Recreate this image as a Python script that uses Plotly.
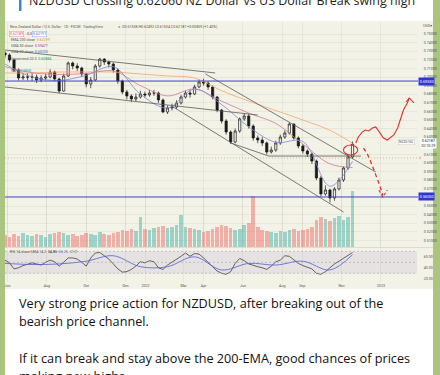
import plotly.graph_objects as go
import pandas as pd

# ---------------- data ----------------
WEEK_START = "2021-05-28"
FIRST_OPEN = 0.7280
CLOSE = [0.7256, 0.7198, 0.7081, 0.6988, 0.7000, 0.7000, 0.7000, 0.6965, 0.6988, 0.7000,
         0.7058, 0.6977, 0.6837, 0.7012, 0.7163, 0.7128, 0.7105, 0.7035, 0.6919, 0.6965,
         0.7128, 0.7209, 0.7174, 0.7151, 0.7081, 0.6953, 0.6826, 0.6779, 0.6744, 0.6767,
         0.6802, 0.6791, 0.6814, 0.6814, 0.6733, 0.6593, 0.6640, 0.6651, 0.6698, 0.6767,
         0.6814, 0.6802, 0.6884, 0.6942, 0.6930, 0.6884, 0.6767, 0.6616, 0.6488, 0.6360,
         0.6244, 0.6372, 0.6512, 0.6547, 0.6430, 0.6291, 0.6267, 0.6233, 0.6128, 0.6151,
         0.6233, 0.6302, 0.6349, 0.6453, 0.6291, 0.6198, 0.6140, 0.6105, 0.6023, 0.5826,
         0.5640, 0.5686, 0.5593, 0.5698, 0.5802, 0.5942, 0.6070, 0.6219]
HIGH = [0.7300, 0.7275, 0.7215, 0.7100, 0.7040, 0.7045, 0.7050, 0.7030, 0.7020, 0.7040,
        0.7090, 0.7075, 0.6990, 0.7040, 0.7180, 0.7180, 0.7160, 0.7120, 0.7050, 0.7000,
        0.7150, 0.7220, 0.7220, 0.7190, 0.7170, 0.7100, 0.6970, 0.6850, 0.6800, 0.6810,
        0.6840, 0.6830, 0.6850, 0.6850, 0.6830, 0.6750, 0.6670, 0.6690, 0.6730, 0.6790,
        0.6840, 0.6850, 0.6910, 0.6970, 0.6980, 0.6950, 0.6900, 0.6780, 0.6630, 0.6510,
        0.6380, 0.6400, 0.6530, 0.6580, 0.6570, 0.6450, 0.6320, 0.6300, 0.6250, 0.6190,
        0.6260, 0.6330, 0.6380, 0.6470, 0.6460, 0.6310, 0.6220, 0.6160, 0.6120, 0.6040,
        0.5850, 0.5740, 0.5700, 0.5720, 0.5830, 0.5960, 0.6090, 0.6250]
LOW = [0.7220, 0.7170, 0.7060, 0.6960, 0.6965, 0.6960, 0.6955, 0.6930, 0.6940, 0.6960,
       0.6985, 0.6950, 0.6810, 0.6830, 0.7000, 0.7090, 0.7070, 0.7000, 0.6880, 0.6870,
       0.6950, 0.7110, 0.7140, 0.7110, 0.7050, 0.6920, 0.6800, 0.6740, 0.6710, 0.6720,
       0.6750, 0.6760, 0.6770, 0.6780, 0.6700, 0.6580, 0.6570, 0.6610, 0.6630, 0.6680,
       0.6750, 0.6760, 0.6790, 0.6870, 0.6900, 0.6850, 0.6740, 0.6590, 0.6460, 0.6330,
       0.6220, 0.6230, 0.6350, 0.6490, 0.6400, 0.6260, 0.6230, 0.6200, 0.6100, 0.6110,
       0.6130, 0.6210, 0.6280, 0.6330, 0.6270, 0.6170, 0.6110, 0.6070, 0.5990, 0.5800,
       0.5610, 0.5620, 0.5540, 0.5560, 0.5680, 0.5780, 0.5920, 0.6050]
VOLUME = [21, 18, 23, 19, 25, 21, 19, 23, 21, 18, 23, 25, 26,
          25, 21, 23, 19, 21, 25, 23, 21, 26, 23, 21,
          25, 26, 30, 28, 32, 28, 53, 32,
          30, 33, 35, 37, 33, 35, 39, 56, 35, 33, 32, 30,
          26, 28, 32, 35, 39, 37, 33, 30, 32, 39, 42,
          89,
          35, 30, 28, 26, 25, 28, 26, 30, 32, 28, 30, 32, 35,
          47, 53, 49, 46, 51, 54, 47, 53,
          98]
RSI = [54, 49, 38, 40, 44, 47, 49, 47, 45, 50, 54, 51, 43, 50, 58, 58, 56, 50, 43, 58,
       67, 68, 62, 56, 47, 38, 32, 33, 37, 43, 51, 49, 53, 51, 40, 37, 45, 50, 55, 61,
       67, 61, 66, 65, 58, 50, 42, 34, 30, 28, 33, 48, 57, 53, 47, 44, 42, 40, 37, 43,
       51, 54, 62, 61, 54, 48, 44, 41, 38, 30, 28, 33, 40, 47, 52, 57, 63, 68]

MA_DATES = ["2021-05-28", "2021-07-09", "2021-08-20", "2021-10-01", "2021-11-12", "2021-12-24",
            "2022-02-04", "2022-03-18", "2022-04-29", "2022-06-10", "2022-07-22", "2022-09-02",
            "2022-10-14", "2022-11-18"]
EMA200 = [0.7047, 0.7047, 0.7058, 0.7058, 0.7058, 0.7035, 0.7012, 0.6988, 0.6840, 0.6720,
          0.6610, 0.6500, 0.6380, 0.6230]
SMA50 = [0.7120, 0.7050, 0.7030, 0.7040, 0.7070, 0.6900, 0.6780, 0.6860, 0.6720, 0.6580,
         0.6460, 0.6220, 0.5990, 0.5948]
SMA20 = [0.7150, 0.7000, 0.6960, 0.7020, 0.7120, 0.6800, 0.6640, 0.6860, 0.6680, 0.6420,
         0.6240, 0.6250, 0.5730, 0.6020]
RSI_SIGNAL = [48, 46, 47, 52, 62, 42, 42, 60, 36, 48, 45, 52, 36, 64]

TREND_X0 = ["2021-05-28", "2021-05-28", "2022-04-04", "2022-02-13", "2022-05-13", "2022-07-11"]
TREND_Y0 = [0.7314, 0.6884, 0.7035, 0.6651, 0.6233, 0.6081]
TREND_X1 = ["2022-04-19", "2022-06-24", "2022-12-24", "2022-11-04", "2022-07-11", "2022-12-01"]
TREND_Y1 = [0.7047, 0.6558, 0.5895, 0.5430, 0.6081, 0.6081]

UP_PATH_X = ["2022-11-23", "2022-11-27", "2022-12-03", "2022-12-08", "2022-12-13", "2022-12-19",
             "2022-12-24", "2022-12-27", "2023-01-01", "2023-01-05", "2023-01-11", "2023-01-16",
             "2023-01-21", "2023-01-27", "2023-02-01", "2023-02-05", "2023-02-11", "2023-02-14"]
UP_PATH_Y = [0.6233, 0.6302, 0.6360, 0.6384, 0.6372, 0.6407, 0.6419, 0.6384, 0.6326, 0.6291,
             0.6267, 0.6302, 0.6326, 0.6407, 0.6523, 0.6616, 0.6698, 0.6756]
UP_HEAD_X = ["2023-02-09", "2023-02-14", "2023-02-21"]
UP_HEAD_Y = [0.6709, 0.6756, 0.6698]
DOWN_PATH_X = ["2022-12-05", "2022-12-11", "2022-12-17", "2022-12-24", "2022-12-30", "2023-01-04"]
DOWN_PATH_Y = [0.6174, 0.6105, 0.6000, 0.5872, 0.5744, 0.5628]
DOWN_HEAD_X = ["2022-12-29", "2023-01-04", "2023-01-11"]
DOWN_HEAD_Y = [0.5686, 0.5605, 0.5686]
CIRCLE_X = ["2022-11-04", "2022-11-26"]
CIRCLE_Y = [0.6093, 0.6209]

BLUE_LEVELS = [0.6953, 0.5605]
BLUE_LABELS = ["0.69530", "0.56050"]
DOTTED_LEVEL = 0.6058
LAST_PRICE = 0.62187

PRICE_TICKS = [0.51, 0.52, 0.53, 0.54, 0.55, 0.57, 0.58, 0.59, 0.60, 0.61, 0.63, 0.64,
               0.65, 0.66, 0.67, 0.68, 0.69, 0.70, 0.71, 0.72, 0.73, 0.74, 0.75]
RSI_TICKS = [20, 40, 60]
DATE_TICKS = ["2021-06-01", "2021-08-01", "2021-10-01", "2021-12-01", "2022-01-01", "2022-03-01",
              "2022-04-01", "2022-06-01", "2022-08-01", "2022-09-01", "2022-11-01", "2023-01-01"]
DATE_LABELS = ["Jun", "Aug", "Oct", "Dec", "2022", "Mar", "Apr", "Jun", "Aug", "Sep", "Nov", "2023"]

TITLE = "NZDUSD Crossing 0.62060 NZ Dollar vs US Dollar Break swing high"
BODY = ["Very strong price action for NZDUSD, after breaking out of the",
        "bearish price channel.",
        "If it can break and stay above the 200-EMA, good chances of prices",
        "making new highs"]

# ---------------- figure ----------------
W, H = 440, 375
def px(x): return x / W
def py(y): return 1 - y / H

dates = pd.date_range(WEEK_START, periods=len(CLOSE), freq="7D")
opens = [FIRST_OPEN] + CLOSE[:-1]
vol_colors = ["rgba(38,166,154,0.42)" if CLOSE[i] >= opens[i] else "rgba(239,83,80,0.42)"
              for i in range(len(CLOSE))]

fig = go.Figure()
fig.add_trace(go.Bar(x=dates, y=VOLUME, marker=dict(color=vol_colors, line=dict(width=0)),
                     width=5.6 * 86400000, xaxis="x", yaxis="y2", hoverinfo="skip"))
for ys, col in [(EMA200, "#f2a66a"), (SMA50, "#d27a95"), (SMA20, "#7d8ad8")]:
    fig.add_trace(go.Scatter(x=MA_DATES, y=ys, mode="lines", line=dict(color=col, width=0.8, shape="spline"),
                             xaxis="x", yaxis="y", hoverinfo="skip"))
for x0, y0, x1, y1 in zip(TREND_X0, TREND_Y0, TREND_X1, TREND_Y1):
    fig.add_trace(go.Scatter(x=[x0, x1], y=[y0, y1], mode="lines", line=dict(color="#5a5a5a", width=0.8),
                             xaxis="x", yaxis="y", hoverinfo="skip"))
fig.add_trace(go.Candlestick(x=dates, open=opens, high=HIGH, low=LOW, close=CLOSE,
                             increasing=dict(line=dict(color="#1a1a1a", width=0.7), fillcolor="#f6f6f0"),
                             decreasing=dict(line=dict(color="#1a1a1a", width=0.7), fillcolor="#1a1a1a"),
                             whiskerwidth=0, xaxis="x", yaxis="y", hoverinfo="skip"))
red = "#e0302a"
fig.add_trace(go.Scatter(x=UP_PATH_X, y=UP_PATH_Y, mode="lines", line=dict(color=red, width=1.1),
                         xaxis="x", yaxis="y", hoverinfo="skip"))
fig.add_trace(go.Scatter(x=UP_HEAD_X, y=UP_HEAD_Y, mode="lines", line=dict(color=red, width=1.1),
                         xaxis="x", yaxis="y", hoverinfo="skip"))
fig.add_trace(go.Scatter(x=DOWN_PATH_X, y=DOWN_PATH_Y, mode="lines", line=dict(color=red, width=1.3, dash="4px,3px"),
                         xaxis="x", yaxis="y", hoverinfo="skip"))
fig.add_trace(go.Scatter(x=DOWN_HEAD_X, y=DOWN_HEAD_Y, mode="lines", line=dict(color=red, width=1.1, dash="3px,2px"),
                         xaxis="x", yaxis="y", hoverinfo="skip"))
fig.add_trace(go.Scatter(x=dates, y=RSI, mode="lines", line=dict(color="#2a2a2a", width=0.7),
                         xaxis="x", yaxis="y3", hoverinfo="skip"))
fig.add_trace(go.Scatter(x=MA_DATES, y=RSI_SIGNAL, mode="lines", line=dict(color="#4f5fd0", width=0.8, shape="spline"),
                         xaxis="x", yaxis="y3", hoverinfo="skip"))

shapes = [
    dict(type="rect", xref="paper", yref="paper", x0=px(5), x1=px(433), y0=0, y1=1,
         fillcolor="white", line=dict(width=0), layer="below"),
    dict(type="rect", xref="paper", yref="paper", x0=px(5), x1=px(433), y0=py(289), y1=py(21),
         fillcolor="#f3f2e6", line=dict(width=0), layer="below"),
    dict(type="rect", xref="paper", yref="paper", x0=px(19), x1=px(21.5), y0=py(11), y1=1,
         fillcolor="#3a86c8", line=dict(width=0), layer="below"),
    dict(type="line", xref="paper", yref="paper", x0=px(5), x1=px(433), y0=py(247.5), y1=py(247.5),
         line=dict(color="#d8d6cc", width=0.8)),
    dict(type="rect", xref="paper", yref="y3", x0=px(5), x1=px(417), y0=30, y1=70,
         fillcolor="rgba(126,87,194,0.10)", line=dict(width=0), layer="below"),
]
for lv in [70, 50, 30]:
    shapes.append(dict(type="line", xref="paper", yref="y3", x0=px(5), x1=px(417), y0=lv, y1=lv,
                       line=dict(color="#9a96a8", width=0.5, dash="2px,2px")))
for lv in BLUE_LEVELS:
    shapes.append(dict(type="line", xref="paper", yref="y", x0=px(5), x1=px(418), y0=lv, y1=lv,
                       line=dict(color="#3b3fd6", width=1.0)))
shapes.append(dict(type="line", xref="paper", yref="y", x0=px(5), x1=px(417), y0=DOTTED_LEVEL, y1=DOTTED_LEVEL,
                   line=dict(color="#c7a070", width=0.7, dash="1px,2px")))
shapes.append(dict(type="circle", xref="x", yref="y", x0=CIRCLE_X[0], x1=CIRCLE_X[1],
                   y0=CIRCLE_Y[0], y1=CIRCLE_Y[1], line=dict(color=red, width=1.1)))

tiny = dict(family="Roboto", size=3.6, color="#555")
ann = []
ann.append(dict(text=TITLE, xref="paper", yref="paper", x=px(27), y=py(11.5), xanchor="left", yanchor="bottom",
                showarrow=False, font=dict(family="Open Sans", size=12.5, color="#1e1e1e")))
for i, line in enumerate(BODY):
    yy = [303, 321, 358, 376][i]
    ann.append(dict(text=line, xref="paper", yref="paper", x=px(17), y=py(yy), xanchor="left", yanchor="middle",
                    showarrow=False, font=dict(family="Open Sans", size=12.65, color="#111")))
# tradingview header texts
ann.append(dict(text="New Zealand Dollar / U.S. Dollar · 1D · FXCM · TradingView", xref="paper", yref="paper",
                x=px(8), y=py(27), xanchor="left", yanchor="middle", showarrow=False, font=tiny))
ann.append(dict(text="<span style='color:#26a69a'>●</span>  O0.61538 H0.62492 L0.61534 C0.62187 +0.00859 (+1.40%)",
                xref="paper", yref="paper", x=px(116), y=py(27), xanchor="left", yanchor="middle",
                showarrow=False, font=tiny))
ann.append(dict(text="0.62189", xref="paper", yref="paper", x=px(9), y=py(33.5), xanchor="left", yanchor="middle",
                showarrow=False, font=dict(family="Roboto", size=3.6, color="#e04a40"),
                bordercolor="#e88", borderwidth=0.5, borderpad=0.6, bgcolor="white"))
ann.append(dict(text="0.0", xref="paper", yref="paper", x=px(25), y=py(33.5), xanchor="left", yanchor="middle",
                showarrow=False, font=tiny))
ann.append(dict(text="0.62191", xref="paper", yref="paper", x=px(32), y=py(33.5), xanchor="left", yanchor="middle",
                showarrow=False, font=dict(family="Roboto", size=3.6, color="#3b6fd0"),
                bordercolor="#8ad", borderwidth=0.5, borderpad=0.6, bgcolor="white"))
legend_rows = [("EMA 200 close", "0.62299", "#f08a24"), ("SMA 50 close", "0.59477", "#a040b0"),
               ("SMA 20 close", "0.60203", "#3b6fd0"), ("Supertrend 20 3", "0.60884", "#2a9a3a")]
for k, (lab, val, col) in enumerate(legend_rows):
    ann.append(dict(text=f"{lab}  <span style='color:{col}'>{val}</span>", xref="paper", yref="paper",
                    x=px(9), y=py(40 + 6.2 * k), xanchor="left", yanchor="middle", showarrow=False, font=tiny))
ann.append(dict(text="Vol  <span style='color:#26a69a'>10.885K</span>", xref="paper", yref="paper",
                x=px(9), y=py(71), xanchor="left", yanchor="middle", showarrow=False, font=tiny))
ann.append(dict(text="RSI 14 close SMA 14 2  <span style='color:#222'>54.85</span>  <span style='color:#4f5fd0'>65.25</span>  ∅  ∅",
                xref="paper", yref="paper", x=px(8), y=py(251.5), xanchor="left", yanchor="middle",
                showarrow=False, font=tiny))
ann.append(dict(text="USD▾", xref="paper", yref="paper", x=px(421), y=py(26), xanchor="left", yanchor="middle",
                showarrow=False, font=tiny))
for lv, lab in zip(BLUE_LEVELS, BLUE_LABELS):
    ann.append(dict(text=lab, xref="paper", yref="y", x=px(418), y=lv, xanchor="left", yanchor="middle",
                    showarrow=False, bgcolor="#2f36d8", borderpad=0.8,
                    font=dict(family="Roboto", size=3.8, color="white")))
ann.append(dict(text="NZDUSD", xref="paper", yref="y", x=px(415), y=LAST_PRICE + 0.0025, xanchor="right", yanchor="middle",
                showarrow=False, bgcolor="white", bordercolor="#bbb", borderwidth=0.4, borderpad=0.6, font=tiny))
ann.append(dict(text=f"{LAST_PRICE:.5f}<br>02:10:29", xref="paper", yref="y", x=px(420), y=LAST_PRICE + 0.001,
                xanchor="left", yanchor="middle", showarrow=False, bgcolor="white", borderpad=0.4,
                font=dict(family="Roboto", size=3.6, color="#222")))
ann.append(dict(text="4", xref="paper", yref="y", x=px(417), y=DOTTED_LEVEL, xanchor="left", yanchor="middle",
                showarrow=False, font=dict(family="Roboto", size=3.6, color="#f08a24")))

fig.update_layout(
    width=W, height=H, autosize=False, margin=dict(l=0, r=0, t=0, b=0),
    paper_bgcolor="#a9c580", plot_bgcolor="rgba(0,0,0,0)", showlegend=False,
    shapes=shapes, annotations=ann, bargap=0,
    xaxis=dict(domain=[px(5), px(417)], range=["2021-05-28", "2023-02-26"], anchor="y3",
               tickvals=DATE_TICKS, ticktext=DATE_LABELS, tickfont=dict(family="Roboto", size=3.6, color="#555"),
               showgrid=True, gridcolor="rgba(0,0,0,0.045)", gridwidth=0.6, zeroline=False, showline=False,
               ticks="", rangeslider=dict(visible=False)),
    yaxis=dict(domain=[py(247), py(22)], range=[0.50233, 0.76395], side="right", anchor="x",
               tickvals=PRICE_TICKS, tickformat=".5f", tickfont=dict(family="Roboto", size=3.6, color="#555"),
               showgrid=True, gridcolor="rgba(0,0,0,0.045)", gridwidth=0.6, zeroline=False,
               ticks="outside", ticklen=5, tickcolor="rgba(0,0,0,0)"),
    yaxis2=dict(domain=[py(247), py(190)], range=[0, 100], visible=False, anchor="x"),
    yaxis3=dict(domain=[py(282), py(247)], range=[14, 78], side="right", anchor="x",
                tickvals=RSI_TICKS, tickformat=".2f", tickfont=dict(family="Roboto", size=3.6, color="#555"),
                showgrid=False, zeroline=False, ticks="outside", ticklen=5, tickcolor="rgba(0,0,0,0)"),
)
fig.write_html("out.html", config={"displayModeBar": False},
               post_script="document.body.style.margin='0px';document.body.style.overflow='hidden';")
